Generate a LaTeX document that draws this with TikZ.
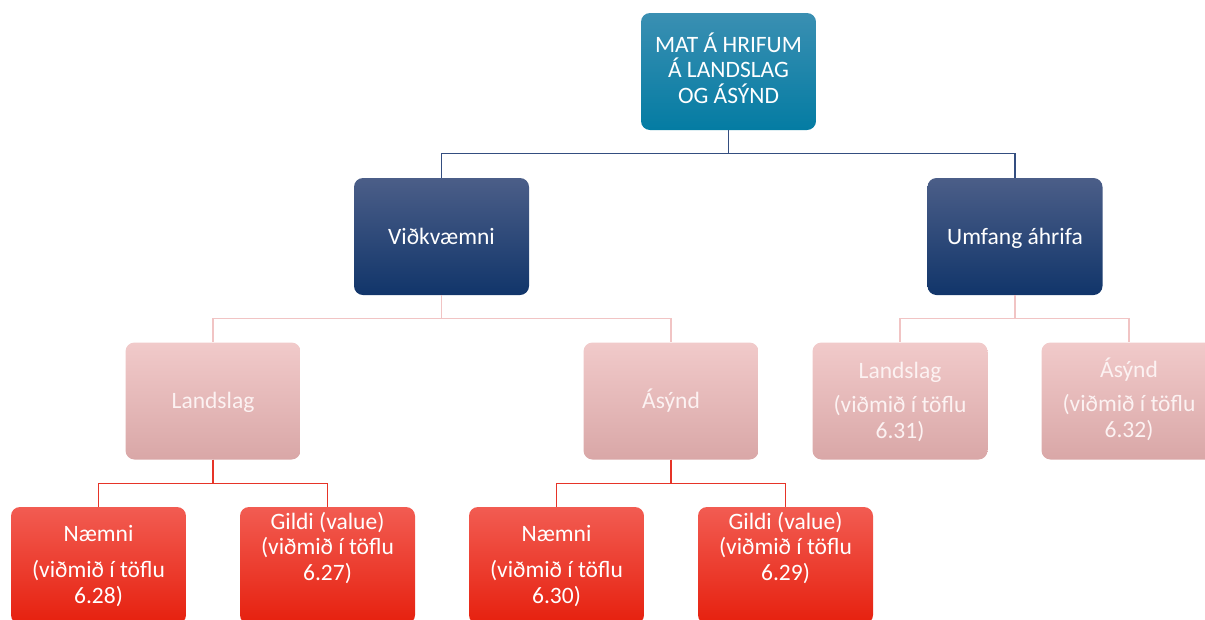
\documentclass[tikz,border=0pt]{standalone}
\usepackage{fontspec}
\setmainfont{Carlito}
\usetikzlibrary{calc}
\definecolor{tealT}{RGB}{58,143,178}
\definecolor{tealB}{RGB}{4,124,163}
\definecolor{navyT}{RGB}{75,94,136}
\definecolor{navyB}{RGB}{17,53,106}
\definecolor{pinkT}{RGB}{241,202,202}
\definecolor{pinkB}{RGB}{217,167,167}
\definecolor{redT}{RGB}{242,92,82}
\definecolor{redB}{RGB}{230,32,14}
\definecolor{navyLine}{RGB}{52,78,128}
\definecolor{pinkLine}{RGB}{241,196,196}
\definecolor{redLine}{RGB}{230,52,40}
\definecolor{pinkText}{RGB}{252,242,242}
\tikzset{
  box/.style={rectangle, rounded corners=9pt, minimum width=175pt, minimum height=117pt, inner sep=0pt, draw=none},
  tealbox/.style={box, top color=tealT, bottom color=tealB},
  navybox/.style={box, top color=navyT, bottom color=navyB},
  pinkbox/.style={box, top color=pinkT, bottom color=pinkB},
  redbox/.style={box, top color=redT, bottom color=redB},
  txt/.style={anchor=base, text width=172pt, align=flush center, inner sep=0pt, text=white, font=\fontsize{23.5}{25.8}\selectfont},
  ptxt/.style={txt, text=pinkText},
  navyconn/.style={draw=navyLine, line width=1.4pt},
  pinkconn/.style={draw=pinkLine, line width=1.4pt},
  redconn/.style={draw=redLine, line width=1.4pt},
}
\begin{document}
\begin{tikzpicture}[x=1pt, y=-1pt]
\useasboundingbox (0,0) rectangle (1205,619);
\clip (0,0) rectangle (1205,619);
\node[tealbox] (top) at (728.5,71.5) {};
\node[navybox] (vid) at (441.5,236.5) {};
\node[navybox] (umf) at (1015,236.5) {};
\node[pinkbox] (lan) at (213,401) {};
\node[pinkbox] (asy) at (671,401) {};
\node[pinkbox] (lan2) at (900,401) {};
\node[pinkbox] (asy2) at (1129,401) {};
\node[redbox] (nae1) at (98.5,565.5) {};
\node[redbox] (gil1) at (327.5,565.5) {};
\node[redbox] (nae2) at (556.5,565.5) {};
\node[redbox] (gil2) at (785.5,565.5) {};

\draw[navyconn] (top.south) -- ++(0,23.5) -| (vid.north);
\draw[navyconn] (top.south) -- ++(0,23.5) -| (umf.north);
\draw[pinkconn] (vid.south) -- ++(0,23.5) -| (lan.north);
\draw[pinkconn] (vid.south) -- ++(0,23.5) -| (asy.north);
\draw[pinkconn] (umf.south) -- ++(0,23.5) -| (lan2.north);
\draw[pinkconn] (umf.south) -- ++(0,23.5) -| (asy2.north);
\draw[redconn] (lan.south) -- ++(0,24) -| (nae1.north);
\draw[redconn] (lan.south) -- ++(0,24) -| (gil1.north);
\draw[redconn] (asy.south) -- ++(0,24) -| (nae2.north);
\draw[redconn] (asy.south) -- ++(0,24) -| (gil2.north);

\node[txt] (ttop) at (728.5,52) {MAT Á HRIFUM\\Á LANDSLAG\\OG ÁSÝND};
\node[txt] (tvid) at (441.5,244) {Viðkvæmni};
\node[txt] (tumf) at (1015,244) {Umfang áhrifa};
\node[ptxt] (tlan) at (213,408) {Landslag};
\node[ptxt] (tasy) at (671,408) {Ásýnd};
\node[ptxt] (tlan2) at (900,378) {Landslag\\[9pt](viðmið í töflu\\6.31)};
\node[ptxt] (tasy2) at (1129,377) {Ásýnd\\[9pt](viðmið í töflu\\6.32)};
\node[txt] (tnae1) at (98.5,541) {Næmni\\[11pt](viðmið í töflu\\6.28)};
\node[txt] (tgil1) at (327.5,529) {Gildi (value)\\(viðmið í töflu\\6.27)};
\node[txt] (tnae2) at (556.5,541) {Næmni\\[11pt](viðmið í töflu\\6.30)};
\node[txt] (tgil2) at (785.5,529) {Gildi (value)\\(viðmið í töflu\\6.29)};
\end{tikzpicture}
\end{document}
